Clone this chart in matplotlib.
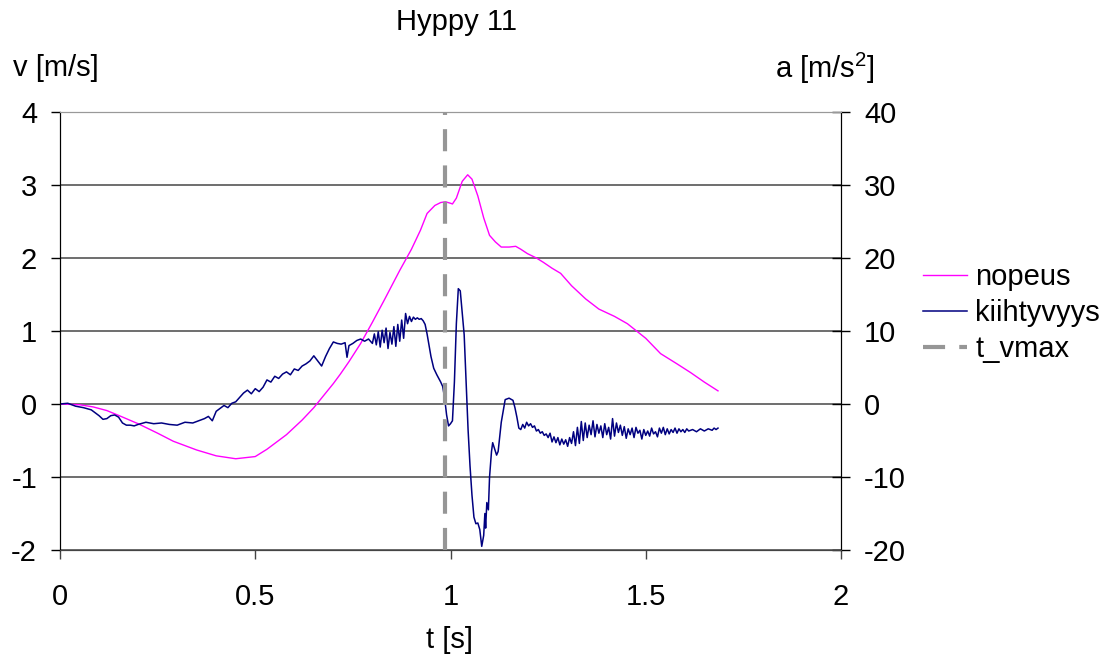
import numpy as np
import matplotlib
matplotlib.use("Agg")
import matplotlib.pyplot as plt

plt.rcParams['font.family'] = ['Liberation Sans', 'DejaVu Sans']
plt.rcParams['axes.unicode_minus'] = False
plt.rcParams['mathtext.default'] = 'regular'

# velocity (left axis)
t_v = [0, 0.05, 0.085, 0.12, 0.154, 0.20, 0.25, 0.29, 0.35, 0.40, 0.45, 0.50, 0.53, 0.58, 0.62,
       0.65, 0.70, 0.718, 0.74, 0.77, 0.80, 0.83, 0.87, 0.90, 0.923, 0.94, 0.96, 0.975, 0.987,
       1.0, 1.005, 1.015, 1.03, 1.044, 1.055, 1.07, 1.085, 1.10, 1.115, 1.13, 1.15, 1.167,
       1.18, 1.197, 1.22, 1.238, 1.26, 1.282, 1.31, 1.346, 1.38, 1.42, 1.453, 1.50, 1.538,
       1.58, 1.615, 1.65, 1.685]
v = [0, -0.01, -0.04, -0.09, -0.165, -0.27, -0.40, -0.51, -0.63, -0.71, -0.75, -0.72, -0.62,
     -0.42, -0.22, -0.05, 0.28, 0.41, 0.58, 0.83, 1.12, 1.42, 1.83, 2.12, 2.38, 2.61, 2.72,
     2.76, 2.77, 2.75, 2.74, 2.82, 3.05, 3.14, 3.08, 2.85, 2.55, 2.31, 2.22, 2.15, 2.15, 2.16,
     2.12, 2.06, 2.0, 1.94, 1.86, 1.79, 1.62, 1.44, 1.30, 1.20, 1.10, 0.90, 0.69, 0.55, 0.43,
     0.30, 0.18]

# acceleration (right axis)
t_a = [0, 0.02, 0.04, 0.06, 0.08, 0.10, 0.11, 0.12, 0.13, 0.14, 0.15, 0.16, 0.17, 0.18, 0.19,
       0.20, 0.22, 0.24, 0.26, 0.28, 0.30, 0.32, 0.34, 0.36, 0.37, 0.38, 0.39, 0.40,
       0.41, 0.42, 0.43, 0.44, 0.45, 0.46, 0.47, 0.48, 0.49, 0.50, 0.51, 0.52, 0.53, 0.54,
       0.55, 0.56, 0.57, 0.58, 0.59, 0.60, 0.61, 0.62, 0.63, 0.64, 0.65, 0.66, 0.67, 0.68,
       0.69, 0.70, 0.71, 0.72, 0.73, 0.735, 0.74, 0.75, 0.76, 0.77, 0.78, 0.79, 0.80,
       0.805, 0.81, 0.815, 0.82, 0.825, 0.83, 0.835, 0.84, 0.845, 0.85, 0.855, 0.86, 0.865,
       0.87, 0.875, 0.88, 0.885, 0.89, 0.895, 0.90, 0.905, 0.91, 0.915, 0.92, 0.925, 0.93,
       0.935, 0.94, 0.95, 0.957, 0.965, 0.975, 0.98, 0.985, 0.99, 0.995, 1.0, 1.005, 1.01,
       1.015, 1.02, 1.025, 1.03, 1.035, 1.04, 1.045, 1.05, 1.055, 1.06, 1.065, 1.07, 1.075,
       1.08, 1.085, 1.088, 1.09, 1.093, 1.097, 1.10, 1.105, 1.108, 1.112, 1.118, 1.122, 1.13,
       1.14, 1.15, 1.16, 1.165, 1.17, 1.175, 1.18, 1.185, 1.19, 1.195, 1.20, 1.205, 1.21,
       1.215, 1.22, 1.225, 1.23, 1.235, 1.24, 1.245, 1.25, 1.255, 1.26, 1.265, 1.27, 1.275,
       1.28, 1.285, 1.29, 1.295, 1.30, 1.305, 1.31, 1.315, 1.32, 1.325, 1.33, 1.335, 1.34,
       1.345, 1.35, 1.355, 1.36, 1.365, 1.37, 1.375, 1.38, 1.385, 1.39, 1.395, 1.40, 1.405,
       1.41, 1.415, 1.42, 1.425, 1.43, 1.435, 1.44, 1.445, 1.45, 1.455, 1.46, 1.465, 1.47,
       1.475, 1.48, 1.485, 1.49, 1.495, 1.50, 1.505, 1.51, 1.515, 1.52, 1.525, 1.53, 1.535,
       1.54, 1.545, 1.55, 1.555, 1.56, 1.565, 1.57, 1.575, 1.58, 1.585, 1.59, 1.595, 1.60,
       1.605, 1.61, 1.62, 1.63, 1.64, 1.65, 1.66, 1.67, 1.675, 1.68, 1.685]
a = [0, 0.1, -0.3, -0.5, -0.8, -1.6, -2.1, -2.0, -1.6, -1.5, -1.8, -2.6, -2.9, -2.9, -3.0,
     -2.8, -2.5, -2.7, -2.6, -2.8, -2.9, -2.5, -2.6, -2.2, -2.0, -1.7, -2.3, -1.0,
     -0.6, -0.2, -0.5, 0.1, 0.3, 0.9, 1.5, 1.9, 1.4, 2.1, 1.7, 2.3, 3.3, 3.0,
     3.8, 3.5, 4.1, 4.4, 4.0, 4.8, 4.6, 5.2, 5.5, 5.9, 6.6, 5.9, 5.2, 6.5,
     7.6, 8.5, 8.3, 8.2, 8.4, 6.4, 8.0, 8.3, 8.7, 8.9, 8.6, 8.9, 8.3,
     9.6, 8.1, 9.9, 7.8, 10.1, 8.4, 10.4, 7.6, 9.8, 8.2, 10.6, 7.9, 10.9,
     8.6, 11.5, 9.0, 12.4, 11.0, 12.0, 11.3, 11.9, 11.6, 11.8, 11.6, 11.7, 11.4,
     10.9, 9.6, 6.5, 4.9, 4.0, 3.0, 2.4, 0.8, -1.5, -3.0, -2.7, -2.3, 3.0,
     11.0, 15.8, 15.5, 12.5, 9.5, 3.0, -3.5, -8.5, -12.5, -15.5, -16.4, -16.3, -17.2,
     -19.5, -18.0, -15.0, -17.0, -13.5, -14.5, -10.0, -6.5, -5.3, -6.0, -7.0, -6.5, -2.5,
     0.6, 0.8, 0.5, -0.5, -1.8, -3.3, -3.5, -2.8, -3.3, -2.5, -3.0, -2.7, -3.2,
     -3.0, -3.7, -3.5, -4.0, -3.8, -4.3, -4.1, -4.6, -4.0, -5.2, -4.5, -5.3, -4.6,
     -5.6, -4.8, -5.5, -4.9, -5.8, -4.6, -5.4, -3.8, -5.7, -3.2, -5.4, -2.4, -5.0,
     -2.6, -4.6, -2.9, -4.2, -2.3, -4.5, -2.8, -4.0, -3.0, -4.6, -2.7, -4.2, -3.2,
     -4.8, -2.0, -4.4, -2.6, -3.9, -2.9, -4.3, -3.1, -4.7, -3.4, -4.2, -3.3, -4.6,
     -3.2, -4.0, -3.6, -4.8, -3.5, -4.3, -3.7, -4.4, -3.3, -4.1, -3.8, -4.5, -3.3,
     -4.0, -3.2, -4.2, -3.4, -4.1, -3.5, -3.9, -3.3, -4.0, -3.4, -3.8, -3.5, -3.9,
     -3.4, -3.7, -3.5, -3.8, -3.4, -3.7, -3.4, -3.6, -3.3, -3.5, -3.3]

t_vmax = 0.985

FS = 21

fig = plt.figure(figsize=(11.12, 6.57), dpi=100)
ax = fig.add_axes([60 / 1112, 1 - 550 / 657, 781 / 1112, 438 / 657])
ax2 = ax.twinx()

l1, = ax.plot(t_v, v, color='#ff00ff', lw=1.0, label='nopeus', zorder=3)
l2, = ax2.plot(t_a, a, color='#000080', lw=1.1, label='kiihtyvyys', zorder=2)
l3 = ax2.axvline(t_vmax, color='#969696', lw=3, dashes=(5.3, 3.4), label='t_vmax', zorder=4)

ax.set_xlim(0, 2)
ax.set_ylim(-2, 4)
ax2.set_ylim(-20, 40)
ax.set_xticks([0, 0.5, 1, 1.5, 2])
ax.set_xticklabels(['0', '0.5', '1', '1.5', '2'])
ax.set_yticks(range(-2, 5))
ax2.set_yticks(range(-20, 41, 10))

ax.set_axisbelow(True)
ax.yaxis.grid(True, color='#555555', lw=1.2)
ax2.set_zorder(ax.get_zorder() + 1)
ax2.patch.set_visible(False)
ax.patch.set_visible(False)

for sp in ['top']:
    ax.spines[sp].set_color('#999999')
    ax2.spines[sp].set_color('#999999')
ax.spines['bottom'].set_color('#444444')
ax2.spines['bottom'].set_color('#444444')

ax.tick_params(axis='y', direction='out', length=6.5, width=1, pad=10, labelsize=FS)
ax.tick_params(axis='x', direction='out', length=6.5, width=1, pad=17, labelsize=FS, color='#444444')
ax2.tick_params(axis='y', direction='inout', length=13, width=1, pad=10, labelsize=FS)

fig.text(457 / 1112, 1 - 22 / 657, 'Hyppy 11', ha='center', va='center', fontsize=FS)
fig.text(13 / 1112, 1 - 68 / 657, 'v [m/s]', ha='left', va='center', fontsize=FS)
fig.text(825 / 1112, 1 - 68 / 657, 'a [m/s$^2$]', ha='center', va='center', fontsize=FS)
fig.text(450 / 1112, 1 - 640 / 657, 't [s]', ha='center', va='center', fontsize=FS)

fig.legend(handles=[l1, l2, l3], loc='center left', bbox_to_anchor=(923 / 1112, 1 - 313 / 657),
           frameon=False, fontsize=FS, handlelength=1.5, handletextpad=0.3, labelspacing=0.27,
           borderpad=0, borderaxespad=0)

fig.savefig('out.png', dpi=100)
